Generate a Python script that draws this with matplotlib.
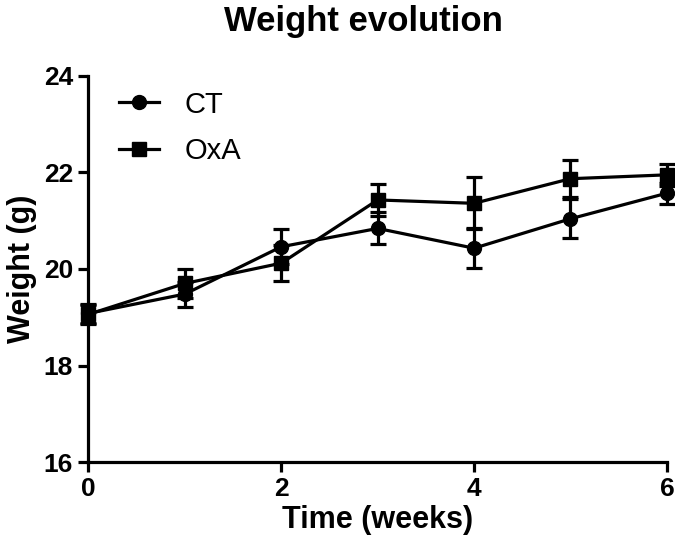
import matplotlib.pyplot as plt
from matplotlib.lines import Line2D
import numpy as np

plt.rcParams['font.family'] = ['Liberation Sans', 'DejaVu Sans']

weeks = [0, 1, 2, 3, 4, 5, 6]
ct_mean = [19.08, 19.48, 20.46, 20.84, 20.43, 21.04, 21.57]
ct_err = [0.20, 0.26, 0.36, 0.33, 0.41, 0.40, 0.22]
oxa_mean = [19.06, 19.70, 20.12, 21.43, 21.36, 21.87, 21.95]
oxa_err = [0.20, 0.30, 0.37, 0.33, 0.54, 0.38, 0.23]

fig = plt.figure(figsize=(6.75, 5.54), dpi=100)
ax = fig.add_axes([0.131, 0.166, 0.857, 0.697])

ax.errorbar(weeks, ct_mean, yerr=ct_err, color='black', marker='o', markersize=10,
            lw=2.3, capsize=6, capthick=2.3, elinewidth=2.3, clip_on=False, zorder=3)
ax.errorbar(weeks, oxa_mean, yerr=oxa_err, color='black', marker='s', markersize=10,
            lw=2.3, capsize=6, capthick=2.3, elinewidth=2.3, clip_on=False, zorder=3)

ax.set_xlim(0, 6)
ax.set_ylim(16, 24)
ax.set_xticks([0, 2, 4, 6])
ax.set_yticks([16, 18, 20, 22, 24])

for s in ['top', 'right']:
    ax.spines[s].set_visible(False)
for s in ['left', 'bottom']:
    ax.spines[s].set_linewidth(2.3)
ax.tick_params(width=2.3, length=7, direction='out', labelsize=19, pad=4)
for lab in ax.get_xticklabels() + ax.get_yticklabels():
    lab.set_fontweight('bold')

ax.set_xlabel('Time (weeks)', fontsize=22, fontweight='bold', labelpad=3)
ax.set_ylabel('Weight (g)', fontsize=22, fontweight='bold', labelpad=5)
ax.set_title('Weight evolution', fontsize=25, fontweight='heavy', pad=32, x=0.475)

handles = [Line2D([], [], color='black', lw=2.3, marker='o', markersize=10),
           Line2D([], [], color='black', lw=2.3, marker='s', markersize=10)]
ax.legend(handles, ['CT', 'OxA'], loc='upper left', frameon=False, fontsize=21,
          handlelength=1.4, handletextpad=0.85, labelspacing=0.62,
          borderaxespad=0, bbox_to_anchor=(0.032, 0.992))

fig.savefig('out.png', dpi=100)
